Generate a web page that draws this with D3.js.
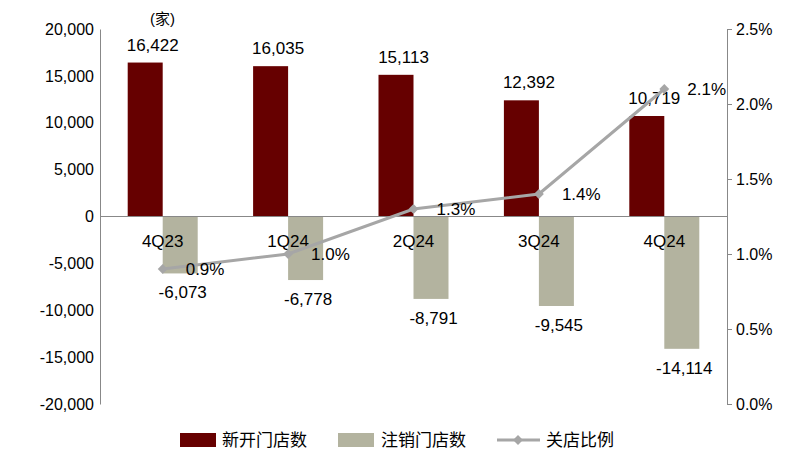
<!DOCTYPE html><html><head><meta charset="utf-8">
<script src="https://cdn.jsdelivr.net/npm/d3@7"></script>
<style>body{margin:0;background:#fff}text{font-family:"Liberation Sans",Arial,"Noto Sans CJK SC",sans-serif}</style></head><body>
<svg id="c" width="802" height="470"></svg>
<script>
const categories=["4Q23","1Q24","2Q24","3Q24","4Q24"];
const openStores=[16422,16035,15113,12392,10719];
const closedStores=[-6073,-6778,-8791,-9545,-14114];
const closeRatio=[0.9,1.0,1.3,1.4,2.1];
const leftTicks=[-20000,-15000,-10000,-5000,0,5000,10000,15000,20000];
const rightTicks=[0,0.5,1.0,1.5,2.0,2.5];
const svg=d3.select("#c");
const L=100,R=727,T=29,B=404;
const x=d3.scaleBand().domain(categories).range([L,R]);
const y=d3.scaleLinear().domain([-20000,20000]).range([B,T]);
const y2=d3.scaleLinear().domain([0,2.5]).range([B,T]);
const fmt=d=>d3.format(",")(d).replace("−","-");
const fs="17px";
const la=svg.append("g").attr("transform",`translate(${L},0)`).call(d3.axisLeft(y).tickValues(leftTicks).tickSize(0).tickPadding(6).tickFormat(fmt));
la.select(".domain").attr("stroke","#888");
la.selectAll("text").attr("font-size","16px").attr("fill","#000").attr("font-family","Liberation Sans");
const ra=svg.append("g").attr("transform",`translate(${R},0)`).call(d3.axisRight(y2).tickValues(rightTicks).tickSize(5).tickPadding(4).tickFormat(d=>d.toFixed(1)+"%"));
ra.select(".domain").attr("stroke","#888");ra.selectAll("line").attr("stroke","#888");
ra.selectAll("text").attr("font-size","16px").attr("fill","#000").attr("font-family","Liberation Sans");
svg.append("text").attr("x",L+50).attr("y",24).attr("font-size","15px").text("(家)");
const bw=35,c=i=>x(categories[i])+x.bandwidth()/2;
svg.selectAll(".o").data(openStores).join("rect").attr("x",(d,i)=>c(i)-bw).attr("width",bw).attr("y",d=>y(d)).attr("height",d=>y(0)-y(d)).attr("fill","#660000");
svg.selectAll(".g").data(closedStores).join("rect").attr("x",(d,i)=>c(i)).attr("width",bw).attr("y",y(0)).attr("height",d=>y(d)-y(0)).attr("fill","#b3b39f");
svg.append("line").attr("x1",L).attr("x2",R).attr("y1",y(0)).attr("y2",y(0)).attr("stroke","#888");
svg.selectAll(".ol").data(openStores).join("text").attr("x",(d,i)=>c(i)-10).attr("y",d=>y(d)-12).attr("text-anchor","middle").attr("font-size",fs).text(fmt);
svg.selectAll(".gl").data(closedStores).join("text").attr("x",(d,i)=>c(i)+20).attr("y",d=>y(d)+25).attr("text-anchor","middle").attr("font-size",fs).text(fmt);
svg.selectAll(".cl").data(categories).join("text").attr("x",(d,i)=>c(i)).attr("y",y(0)+30).attr("text-anchor","middle").attr("font-size",fs).text(d=>d);
const line=d3.line().x((d,i)=>c(i)).y(d=>y2(d));
svg.append("path").datum(closeRatio).attr("d",line).attr("fill","none").attr("stroke","#a6a6a6").attr("stroke-width",3);
svg.selectAll(".m").data(closeRatio).join("path").attr("transform",(d,i)=>`translate(${c(i)},${y2(d)}) rotate(45)`).attr("d","M-3.5,-3.5h7v7h-7z").attr("fill","#a6a6a6");
svg.selectAll(".pl").data(closeRatio).join("text").attr("x",(d,i)=>c(i)+23).attr("y",d=>y2(d)+6).attr("font-size",fs).text(d=>d.toFixed(1)+"%");
const lg=svg.append("g").attr("font-size",fs);
lg.append("rect").attr("x",180).attr("y",433).attr("width",36).attr("height",14).attr("fill","#660000");
lg.append("text").attr("x",222).attr("y",446).text("新开门店数");
lg.append("rect").attr("x",338).attr("y",433).attr("width",36).attr("height",14).attr("fill","#b3b39f");
lg.append("text").attr("x",381).attr("y",446).text("注销门店数");
lg.append("line").attr("x1",497).attr("x2",540).attr("y1",440).attr("y2",440).attr("stroke","#a6a6a6").attr("stroke-width",3);
lg.append("path").attr("transform","translate(518,440) rotate(45)").attr("d","M-3.5,-3.5h7v7h-7z").attr("fill","#a6a6a6");
lg.append("text").attr("x",546).attr("y",446).text("关店比例");
</script></body></html>
